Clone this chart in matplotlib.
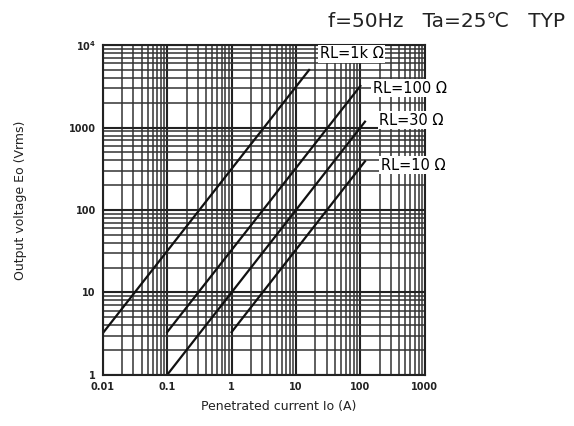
import matplotlib.pyplot as plt
import numpy as np
from matplotlib.ticker import LogLocator, FixedLocator, FixedFormatter, NullFormatter

# Output voltage vs penetrated current for each load resistance
current_1k = [0.01, 16]
voltage_1k = [3.2, 5000]
current_100 = [0.1, 100]
voltage_100 = [3.3, 3200]
current_30 = [0.1, 118]
voltage_30 = [1.0, 1180]
current_10 = [1.0, 118]
voltage_10 = [3.3, 390]

series_labels = ['RL=1k Ω', 'RL=100 Ω', 'RL=30 Ω', 'RL=10 Ω']
x_ticks = [0.01, 0.1, 1, 10, 100, 1000]
x_tick_labels = ['0.01', '0.1', '1', '10', '100', '1000']
y_ticks = [1, 10, 100, 1000, 10000]
y_tick_labels = ['1', '10', '100', '1000', r'$\mathbf{10^4}$']

fig = plt.figure(figsize=(5.74, 4.26), dpi=100)
ax = fig.add_axes([0.179, 0.120, 0.561, 0.774])
ax.set_xscale('log')
ax.set_yscale('log')
ax.set_xlim(0.01, 1000)
ax.set_ylim(1, 10000)

# log paper grid
ax.xaxis.set_major_locator(FixedLocator(x_ticks))
ax.xaxis.set_major_formatter(FixedFormatter(x_tick_labels))
ax.yaxis.set_major_locator(FixedLocator(y_ticks))
ax.yaxis.set_major_formatter(FixedFormatter(y_tick_labels))
ax.xaxis.set_minor_locator(LogLocator(base=10, subs=np.arange(2, 10)))
ax.yaxis.set_minor_locator(LogLocator(base=10, subs=np.arange(2, 10)))
ax.xaxis.set_minor_formatter(NullFormatter())
ax.yaxis.set_minor_formatter(NullFormatter())
ax.grid(which='major', color='#222222', linewidth=1.5)
ax.grid(which='minor', color='#333333', linewidth=1.1)
ax.tick_params(which='both', length=0)
ax.tick_params(axis='both', labelsize=7, pad=5)
for lab in ax.get_xticklabels() + ax.get_yticklabels():
    lab.set_fontweight('bold')
    lab.set_color('#222222')
for sp in ax.spines.values():
    sp.set_color('#222222')
    sp.set_linewidth(1.5)

ax.plot(current_1k, voltage_1k, color='#111111', linewidth=1.6)
ax.plot(current_100, voltage_100, color='#111111', linewidth=1.6)
ax.plot(current_30, voltage_30, color='#111111', linewidth=1.6)
ax.plot(current_10, voltage_10, color='#111111', linewidth=1.6)

box = dict(facecolor='white', edgecolor='none', pad=1.0)
ax.text(73, 7900, series_labels[0], fontsize=10.5, ha='center', va='center', bbox=box)
ax.text(585, 2985, series_labels[1], fontsize=10.5, ha='center', va='center', bbox=box)
ax.text(622, 1233, series_labels[2], fontsize=10.5, ha='center', va='center', bbox=box)
ax.text(658, 351, series_labels[3], fontsize=10.5, ha='center', va='center', bbox=box)

fig.text(0.985, 0.95, 'f=50Hz   Ta=25℃   TYP', fontsize=14.5, ha='right', va='center',
         color='#222222')
fig.text(0.485, 0.045, 'Penetrated current Io (A)', fontsize=9, ha='center', va='center',
         color='#222222')
fig.text(0.035, 0.53, 'Output voltage Eo (Vrms)', fontsize=9, ha='center', va='center',
         rotation=90, color='#222222')

fig.savefig('out.png', dpi=100)
